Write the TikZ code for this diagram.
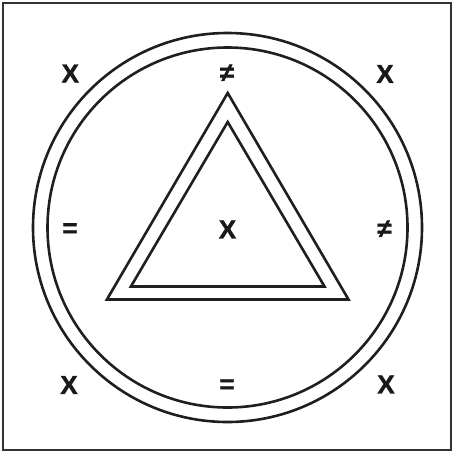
\documentclass[tikz,border=0pt]{standalone}
\usepackage{fontspec}
\newfontfamily\lblfont{Liberation Sans Bold}[FakeBold=1.5]
\begin{document}
\begin{tikzpicture}[x=1pt,y=-1pt,
  lbl/.style={font=\lblfont\fontsize{26}{26}\selectfont, inner sep=0pt, text=black!90},
  ring/.style={line width=2.6pt, draw=black!88},
  tri/.style={line width=2.6pt, draw=black!88, line join=miter}]
\useasboundingbox (0,0) rectangle (454,452);
\draw[line width=2pt, draw=black!80] (3,3) rectangle (451,450);
\draw[ring] (227.5,227.5) circle[radius=194.5];
\draw[ring] (227.5,227.5) circle[radius=180];
\draw[tri] (227.7,93) -- (348.5,299.5) -- (106.9,299.5) -- cycle;
\draw[tri] (227.7,122) -- (324.5,286.5) -- (130.9,286.5) -- cycle;
\node[lbl] (tl) at (70.3,73.5) {X};
\node[lbl] (tc) at (227,73) {≠};
\node[lbl] (tr) at (385,74) {X};
\node[lbl] (ml) at (70,230) {=};
\node[lbl] (mc) at (227.5,229.5) {X};
\node[lbl] (mr) at (384.5,229) {≠};
\node[lbl] (bl) at (69,385) {X};
\node[lbl] (bc) at (227,386) {=};
\node[lbl] (br) at (386,384.5) {X};
\end{tikzpicture}
\end{document}
